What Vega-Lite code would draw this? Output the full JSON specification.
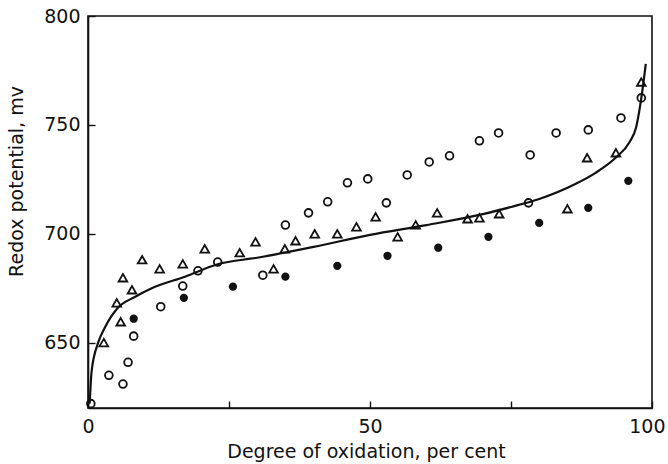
{
  "$schema": "https://vega.github.io/schema/vega-lite/v6.json",
  "width": 564,
  "height": 392,
  "autosize": "none",
  "padding": {"left": 88, "top": 16, "right": 16, "bottom": 56},
  "background": "white",
  "config": {
    "view": {"stroke": "#111", "strokeWidth": 1.6},
    "axis": {
      "domainColor": "#111", "domainWidth": 1.6, "tickColor": "#111", "tickWidth": 1.4,
      "labelFont": "DejaVu Sans", "labelFontSize": 19, "labelColor": "#111",
      "titleFont": "DejaVu Sans", "titleFontSize": 19, "titleFontWeight": "normal", "titleColor": "#111",
      "grid": false
    }
  },
  "data": {"values": [
    {"x": 0.3, "y": 622, "s": "curve"}, {"x": 0.65, "y": 637, "s": "curve"}, {"x": 1.8, "y": 650, "s": "curve"},
    {"x": 3, "y": 657, "s": "curve"}, {"x": 5.3, "y": 666, "s": "curve"}, {"x": 8.3, "y": 671, "s": "curve"},
    {"x": 11.3, "y": 675, "s": "curve"}, {"x": 17.2, "y": 680.3, "s": "curve"}, {"x": 23, "y": 686, "s": "curve"},
    {"x": 30, "y": 689, "s": "curve"}, {"x": 40, "y": 694, "s": "curve"}, {"x": 50, "y": 699.5, "s": "curve"},
    {"x": 60, "y": 704, "s": "curve"}, {"x": 70, "y": 709, "s": "curve"}, {"x": 75, "y": 712.3, "s": "curve"},
    {"x": 80, "y": 716, "s": "curve"}, {"x": 86.5, "y": 723, "s": "curve"}, {"x": 90, "y": 728, "s": "curve"},
    {"x": 93.6, "y": 735, "s": "curve"}, {"x": 96, "y": 742, "s": "curve"}, {"x": 97.2, "y": 749, "s": "curve"},
    {"x": 98.2, "y": 764, "s": "curve"}, {"x": 98.9, "y": 778, "s": "curve"},

    {"x": 0.5, "y": 622, "s": "open"}, {"x": 3.7, "y": 635, "s": "open"}, {"x": 6.2, "y": 631, "s": "open"},
    {"x": 7.1, "y": 641, "s": "open"}, {"x": 8.1, "y": 653, "s": "open"}, {"x": 12.9, "y": 666.5, "s": "open"},
    {"x": 16.8, "y": 676, "s": "open"}, {"x": 19.5, "y": 683, "s": "open"}, {"x": 23, "y": 687, "s": "open"},
    {"x": 31, "y": 681, "s": "open"}, {"x": 35, "y": 704, "s": "open"}, {"x": 39.1, "y": 709.6, "s": "open"},
    {"x": 42.5, "y": 714.7, "s": "open"}, {"x": 46, "y": 723.4, "s": "open"}, {"x": 49.6, "y": 725.2, "s": "open"},
    {"x": 52.9, "y": 714.2, "s": "open"}, {"x": 56.6, "y": 727, "s": "open"}, {"x": 60.5, "y": 733, "s": "open"},
    {"x": 64.1, "y": 735.8, "s": "open"}, {"x": 69.4, "y": 742.7, "s": "open"}, {"x": 72.8, "y": 746.3, "s": "open"},
    {"x": 78.1, "y": 714.2, "s": "open"}, {"x": 78.4, "y": 736.2, "s": "open"}, {"x": 83, "y": 746.3, "s": "open"},
    {"x": 88.7, "y": 747.7, "s": "open"}, {"x": 94.5, "y": 753.2, "s": "open"}, {"x": 98.1, "y": 762.4, "s": "open"},

    {"x": 2.8, "y": 650, "s": "tri"}, {"x": 5.1, "y": 668.3, "s": "tri"}, {"x": 5.8, "y": 659.6, "s": "tri"},
    {"x": 6.2, "y": 679.8, "s": "tri"}, {"x": 7.8, "y": 674.3, "s": "tri"}, {"x": 9.6, "y": 688.1, "s": "tri"},
    {"x": 12.7, "y": 683.9, "s": "tri"}, {"x": 16.8, "y": 686.2, "s": "tri"}, {"x": 20.7, "y": 693.1, "s": "tri"},
    {"x": 26.9, "y": 691.3, "s": "tri"}, {"x": 29.7, "y": 696.3, "s": "tri"}, {"x": 32.9, "y": 683.9, "s": "tri"},
    {"x": 34.9, "y": 693.1, "s": "tri"}, {"x": 36.8, "y": 696.8, "s": "tri"}, {"x": 40.2, "y": 700, "s": "tri"},
    {"x": 44.2, "y": 700, "s": "tri"}, {"x": 47.6, "y": 703.2, "s": "tri"}, {"x": 51, "y": 707.8, "s": "tri"},
    {"x": 54.9, "y": 698.6, "s": "tri"}, {"x": 58.1, "y": 704.1, "s": "tri"}, {"x": 61.9, "y": 709.6, "s": "tri"},
    {"x": 67.3, "y": 706.9, "s": "tri"}, {"x": 69.4, "y": 707.3, "s": "tri"}, {"x": 72.9, "y": 709.2, "s": "tri"},
    {"x": 85, "y": 711.5, "s": "tri"}, {"x": 88.5, "y": 734.9, "s": "tri"}, {"x": 93.6, "y": 737.2, "s": "tri"},
    {"x": 98.1, "y": 769.7, "s": "tri"},

    {"x": 8.1, "y": 661, "s": "filled"}, {"x": 17, "y": 670.6, "s": "filled"}, {"x": 25.7, "y": 675.7, "s": "filled"},
    {"x": 35, "y": 680.3, "s": "filled"}, {"x": 44.2, "y": 685.3, "s": "filled"}, {"x": 53.1, "y": 689.9, "s": "filled"},
    {"x": 62.1, "y": 693.6, "s": "filled"}, {"x": 71, "y": 698.6, "s": "filled"}, {"x": 80, "y": 705, "s": "filled"},
    {"x": 88.7, "y": 711.9, "s": "filled"}, {"x": 95.8, "y": 724.3, "s": "filled"}
  ]},
  "encoding": {
    "x": {"field": "x", "type": "quantitative",
      "scale": {"domain": [0, 100], "nice": false, "zero": false},
      "axis": {"title": "Degree of oxidation, per cent", "values": [0, 25, 50, 75, 100],
        "labelExpr": "datum.value % 50 === 0 ? datum.label : ''",
        "labelAlign": {"condition": {"test": "datum.value === 100", "value": "right"}, "value": "center"},
        "labelOffset": {"condition": {"test": "datum.value === 100", "value": 13}, "value": 0},
        "tickSize": -7, "labelPadding": 16, "titlePadding": 6, "titleX": 278, "labelFlush": false}},
    "y": {"field": "y", "type": "quantitative",
      "scale": {"domain": [620, 800], "nice": false, "zero": false},
      "axis": {"title": "Redox potential, mv", "values": [650, 700, 750, 800],
        "tickSize": -7, "labelPadding": 15, "titleY": 165, "titleX": -72, "titleBaseline": "middle", "titleAngle": 270}}
  },
  "layer": [
    {"transform": [{"filter": "datum.s === 'curve'"}],
     "mark": {"type": "line", "color": "#111", "strokeWidth": 2.2, "interpolate": "monotone", "clip": true}},
    {"transform": [{"filter": "datum.s === 'open'"}],
     "mark": {"type": "point", "shape": "circle", "filled": false, "color": "#111", "strokeWidth": 1.8, "size": 60, "opacity": 1}},
    {"transform": [{"filter": "datum.s === 'tri'"}],
     "mark": {"type": "point", "shape": "triangle-up", "filled": false, "color": "#111", "strokeWidth": 1.8, "size": 75, "opacity": 1}},
    {"transform": [{"filter": "datum.s === 'filled'"}],
     "mark": {"type": "point", "shape": "circle", "filled": true, "color": "#111", "size": 68, "opacity": 1}}
  ]
}
